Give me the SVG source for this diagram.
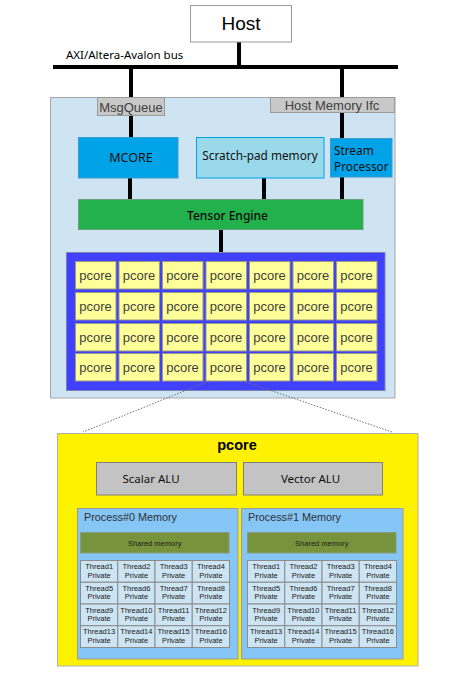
<svg xmlns="http://www.w3.org/2000/svg" width="453" height="676" viewBox="0 0 453 676">
<style>
.ar{font-family:"Liberation Sans",Arial,sans-serif}
.ns{font-family:"Noto Sans","Open Sans",sans-serif}
.bus{stroke:#000;stroke-width:4;fill:none}
.pc rect{fill:#ffff99;stroke:#9a9a80;stroke-width:1}
.pc text{font-family:"Liberation Sans",Arial,sans-serif;font-size:13px;fill:#404040;text-anchor:middle}
.th rect{fill:#cde4f3;stroke:#8c8c8c;stroke-width:1}
.th text{font-family:"Liberation Sans",Arial,sans-serif;font-size:7.5px;fill:#202020;text-anchor:middle}
.dash{stroke:#707070;stroke-width:1;stroke-dasharray:1.5,1.5;fill:none}
</style>
<rect width="453" height="676" fill="#fff"/>

<g id="connectors">
  <line class="bus" x1="239" y1="42" x2="239" y2="67"/>
  <line class="bus" x1="53" y1="67" x2="398" y2="67"/>
  <line class="bus" x1="131" y1="67" x2="131" y2="97"/>
  <line class="bus" x1="342" y1="67" x2="342" y2="97"/>
</g>

<g id="bus-label"><text class="ns" x="66" y="59" font-size="11.5" fill="#000">AXI/Altera-Avalon bus</text></g>

<g id="host">
  <rect x="190.5" y="5.5" width="101" height="36.5" fill="#fff" stroke="#999"/>
  <text class="ar" x="241" y="30" font-size="19" text-anchor="middle" fill="#000">Host</text>
</g>

<g id="container">
  <rect x="50.5" y="97.5" width="344.5" height="300.5" fill="#cfe4f3" stroke="#a6a6a6"/>
</g>

<g id="inner-connectors">
  <line class="bus" x1="131" y1="116" x2="131" y2="137"/>
  <line class="bus" x1="342" y1="113" x2="342" y2="138"/>
  <line class="bus" x1="130" y1="178" x2="130" y2="200"/>
  <line class="bus" x1="264" y1="178" x2="264" y2="200"/>
  <line class="bus" x1="342" y1="177" x2="342" y2="200"/>
  <line class="bus" x1="221" y1="229" x2="221" y2="252"/>
</g>

<g id="msgqueue">
  <rect x="97.5" y="97.5" width="67" height="18" fill="#c8c8c8" stroke="#9a9a9a"/>
  <text class="ar" x="131" y="111.5" font-size="13" text-anchor="middle" fill="#404040">MsgQueue</text>
</g>
<g id="hostmem">
  <rect x="270.5" y="97.5" width="124" height="15" fill="#c8c8c8" stroke="#9a9a9a"/>
  <text class="ar" x="332" y="109.5" font-size="13" text-anchor="middle" fill="#404040">Host Memory Ifc</text>
</g>

<g id="mcore">
  <rect x="78.5" y="137.5" width="99.5" height="40.5" fill="#00a2e8" stroke="#3c9ccc"/>
  <text class="ns" x="131" y="162" font-size="12.5" text-anchor="middle" fill="#101010">MCORE</text>
</g>
<g id="scratchpad">
  <rect x="196.5" y="137.5" width="127.5" height="40.5" fill="#99d9ea" stroke="#00a2e8"/>
  <text class="ns" x="260" y="160" font-size="11.8" text-anchor="middle" fill="#101010">Scratch-pad memory</text>
</g>
<g id="stream">
  <rect x="330.5" y="138.5" width="61.5" height="38.5" fill="#00a2e8" stroke="#3c9ccc"/>
  <text class="ns" x="334" y="155" font-size="11.8" fill="#101010">Stream</text>
  <text class="ns" x="334" y="171" font-size="11.8" fill="#101010">Processor</text>
</g>

<g id="tensor">
  <rect x="78.5" y="199.5" width="284.5" height="30" fill="#22b14c" stroke="#6aa07a"/>
  <text class="ns" x="227.5" y="220" font-size="12" font-weight="500" text-anchor="middle" fill="#0a0a0a">Tensor Engine</text>
</g>

<g id="pcore-array">
  <rect x="66.5" y="252.5" width="318.5" height="138" fill="#4040ff" stroke="#8080b0"/>
</g>

<g id="pc-0-0" class="pc"><rect x="75.5" y="261.5" width="40.5" height="27.5"/><text x="95.5" y="279.5">pcore</text></g>
<g id="pc-0-1" class="pc"><rect x="119" y="261.5" width="40.5" height="27.5"/><text x="139" y="279.5">pcore</text></g>
<g id="pc-0-2" class="pc"><rect x="162.5" y="261.5" width="40.5" height="27.5"/><text x="182.5" y="279.5">pcore</text></g>
<g id="pc-0-3" class="pc"><rect x="206" y="261.5" width="40.5" height="27.5"/><text x="226" y="279.5">pcore</text></g>
<g id="pc-0-4" class="pc"><rect x="249.5" y="261.5" width="40.5" height="27.5"/><text x="269.5" y="279.5">pcore</text></g>
<g id="pc-0-5" class="pc"><rect x="293" y="261.5" width="40.5" height="27.5"/><text x="313" y="279.5">pcore</text></g>
<g id="pc-0-6" class="pc"><rect x="336.5" y="261.5" width="40.5" height="27.5"/><text x="356.5" y="279.5">pcore</text></g>

<g id="pc-1-0" class="pc"><rect x="75.5" y="292.5" width="40.5" height="27.5"/><text x="95.5" y="310.5">pcore</text></g>
<g id="pc-1-1" class="pc"><rect x="119" y="292.5" width="40.5" height="27.5"/><text x="139" y="310.5">pcore</text></g>
<g id="pc-1-2" class="pc"><rect x="162.5" y="292.5" width="40.5" height="27.5"/><text x="182.5" y="310.5">pcore</text></g>
<g id="pc-1-3" class="pc"><rect x="206" y="292.5" width="40.5" height="27.5"/><text x="226" y="310.5">pcore</text></g>
<g id="pc-1-4" class="pc"><rect x="249.5" y="292.5" width="40.5" height="27.5"/><text x="269.5" y="310.5">pcore</text></g>
<g id="pc-1-5" class="pc"><rect x="293" y="292.5" width="40.5" height="27.5"/><text x="313" y="310.5">pcore</text></g>
<g id="pc-1-6" class="pc"><rect x="336.5" y="292.5" width="40.5" height="27.5"/><text x="356.5" y="310.5">pcore</text></g>

<g id="pc-2-0" class="pc"><rect x="75.5" y="323.5" width="40.5" height="27.5"/><text x="95.5" y="341.5">pcore</text></g>
<g id="pc-2-1" class="pc"><rect x="119" y="323.5" width="40.5" height="27.5"/><text x="139" y="341.5">pcore</text></g>
<g id="pc-2-2" class="pc"><rect x="162.5" y="323.5" width="40.5" height="27.5"/><text x="182.5" y="341.5">pcore</text></g>
<g id="pc-2-3" class="pc"><rect x="206" y="323.5" width="40.5" height="27.5"/><text x="226" y="341.5">pcore</text></g>
<g id="pc-2-4" class="pc"><rect x="249.5" y="323.5" width="40.5" height="27.5"/><text x="269.5" y="341.5">pcore</text></g>
<g id="pc-2-5" class="pc"><rect x="293" y="323.5" width="40.5" height="27.5"/><text x="313" y="341.5">pcore</text></g>
<g id="pc-2-6" class="pc"><rect x="336.5" y="323.5" width="40.5" height="27.5"/><text x="356.5" y="341.5">pcore</text></g>

<g id="pc-3-0" class="pc"><rect x="75.5" y="353.5" width="40.5" height="27.5"/><text x="95.5" y="371.5">pcore</text></g>
<g id="pc-3-1" class="pc"><rect x="119" y="353.5" width="40.5" height="27.5"/><text x="139" y="371.5">pcore</text></g>
<g id="pc-3-2" class="pc"><rect x="162.5" y="353.5" width="40.5" height="27.5"/><text x="182.5" y="371.5">pcore</text></g>
<g id="pc-3-3" class="pc"><rect x="206" y="353.5" width="40.5" height="27.5"/><text x="226" y="371.5">pcore</text></g>
<g id="pc-3-4" class="pc"><rect x="249.5" y="353.5" width="40.5" height="27.5"/><text x="269.5" y="371.5">pcore</text></g>
<g id="pc-3-5" class="pc"><rect x="293" y="353.5" width="40.5" height="27.5"/><text x="313" y="371.5">pcore</text></g>
<g id="pc-3-6" class="pc"><rect x="336.5" y="353.5" width="40.5" height="27.5"/><text x="356.5" y="371.5">pcore</text></g>

<g id="zoom-lines">
  <line class="dash" x1="209" y1="381" x2="83" y2="432"/>
  <line class="dash" x1="243" y1="381" x2="392" y2="432"/>
</g>

<g id="pcore-detail">
  <rect x="57.5" y="433.5" width="360.5" height="232.5" fill="#fff200" stroke="#b0b0b0"/>
  <text class="ar" x="237" y="449.5" font-size="14.5" font-weight="bold" text-anchor="middle" fill="#000">pcore</text>
</g>

<g id="scalar-alu">
  <rect x="96.5" y="462.5" width="140" height="32.5" fill="#c3c3c3" stroke="#7f7f7f"/>
  <text class="ns" x="151" y="482.5" font-size="11.5" text-anchor="middle" fill="#101010">Scalar ALU</text>
</g>
<g id="vector-alu">
  <rect x="243.5" y="462.5" width="139" height="32.5" fill="#c3c3c3" stroke="#7f7f7f"/>
  <text class="ns" x="310.5" y="482.5" font-size="11.5" text-anchor="middle" fill="#101010">Vector ALU</text>
</g>

<g id="process0">
  <rect x="77.5" y="508.5" width="160.5" height="150.5" fill="#85c6f7" stroke="#9a9a9a"/>
  <text class="ar" x="84" y="521" font-size="10.8" fill="#303030">Process#0 Memory</text>
  <rect x="80.5" y="532.5" width="148.5" height="20.5" fill="#77933c" stroke="#8a9a80"/>
  <text class="ar" x="154.75" y="545.5" font-size="7.5" text-anchor="middle" fill="#202020">Shared memory</text>
</g>
<g id="process1">
  <rect x="241.5" y="508.5" width="161.5" height="150.5" fill="#85c6f7" stroke="#9a9a9a"/>
  <text class="ar" x="248" y="521" font-size="10.8" fill="#303030">Process#1 Memory</text>
  <rect x="247.5" y="532.5" width="148.5" height="20.5" fill="#77933c" stroke="#8a9a80"/>
  <text class="ar" x="321.75" y="545.5" font-size="7.5" text-anchor="middle" fill="#202020">Shared memory</text>
</g>

<g id="p0-threads" class="th">
  <g id="p0-t1"><rect x="80.5" y="560.5" width="37.25" height="21.75"/><text x="99.1" y="569">Thread1</text><text x="99.1" y="577.5">Private</text></g>
  <g id="p0-t2"><rect x="117.75" y="560.5" width="37.25" height="21.75"/><text x="136.4" y="569">Thread2</text><text x="136.4" y="577.5">Private</text></g>
  <g id="p0-t3"><rect x="155" y="560.5" width="37.25" height="21.75"/><text x="173.6" y="569">Thread3</text><text x="173.6" y="577.5">Private</text></g>
  <g id="p0-t4"><rect x="192.25" y="560.5" width="37.25" height="21.75"/><text x="210.9" y="569">Thread4</text><text x="210.9" y="577.5">Private</text></g>
  <g id="p0-t5"><rect x="80.5" y="582.25" width="37.25" height="21.75"/><text x="99.1" y="590.75">Thread5</text><text x="99.1" y="599.25">Private</text></g>
  <g id="p0-t6"><rect x="117.75" y="582.25" width="37.25" height="21.75"/><text x="136.4" y="590.75">Thread6</text><text x="136.4" y="599.25">Private</text></g>
  <g id="p0-t7"><rect x="155" y="582.25" width="37.25" height="21.75"/><text x="173.6" y="590.75">Thread7</text><text x="173.6" y="599.25">Private</text></g>
  <g id="p0-t8"><rect x="192.25" y="582.25" width="37.25" height="21.75"/><text x="210.9" y="590.75">Thread8</text><text x="210.9" y="599.25">Private</text></g>
  <g id="p0-t9"><rect x="80.5" y="604" width="37.25" height="21.75"/><text x="99.1" y="612.5">Thread9</text><text x="99.1" y="621">Private</text></g>
  <g id="p0-t10"><rect x="117.75" y="604" width="37.25" height="21.75"/><text x="136.4" y="612.5">Thread10</text><text x="136.4" y="621">Private</text></g>
  <g id="p0-t11"><rect x="155" y="604" width="37.25" height="21.75"/><text x="173.6" y="612.5">Thread11</text><text x="173.6" y="621">Private</text></g>
  <g id="p0-t12"><rect x="192.25" y="604" width="37.25" height="21.75"/><text x="210.9" y="612.5">Thread12</text><text x="210.9" y="621">Private</text></g>
  <g id="p0-t13"><rect x="80.5" y="625.75" width="37.25" height="21.75"/><text x="99.1" y="634.25">Thread13</text><text x="99.1" y="642.75">Private</text></g>
  <g id="p0-t14"><rect x="117.75" y="625.75" width="37.25" height="21.75"/><text x="136.4" y="634.25">Thread14</text><text x="136.4" y="642.75">Private</text></g>
  <g id="p0-t15"><rect x="155" y="625.75" width="37.25" height="21.75"/><text x="173.6" y="634.25">Thread15</text><text x="173.6" y="642.75">Private</text></g>
  <g id="p0-t16"><rect x="192.25" y="625.75" width="37.25" height="21.75"/><text x="210.9" y="634.25">Thread16</text><text x="210.9" y="642.75">Private</text></g>
</g>

<g id="p1-threads" class="th">
  <g id="p1-t1"><rect x="247.5" y="560.5" width="37.25" height="21.75"/><text x="266.1" y="569">Thread1</text><text x="266.1" y="577.5">Private</text></g>
  <g id="p1-t2"><rect x="284.75" y="560.5" width="37.25" height="21.75"/><text x="303.4" y="569">Thread2</text><text x="303.4" y="577.5">Private</text></g>
  <g id="p1-t3"><rect x="322" y="560.5" width="37.25" height="21.75"/><text x="340.6" y="569">Thread3</text><text x="340.6" y="577.5">Private</text></g>
  <g id="p1-t4"><rect x="359.25" y="560.5" width="37.25" height="21.75"/><text x="377.9" y="569">Thread4</text><text x="377.9" y="577.5">Private</text></g>
  <g id="p1-t5"><rect x="247.5" y="582.25" width="37.25" height="21.75"/><text x="266.1" y="590.75">Thread5</text><text x="266.1" y="599.25">Private</text></g>
  <g id="p1-t6"><rect x="284.75" y="582.25" width="37.25" height="21.75"/><text x="303.4" y="590.75">Thread6</text><text x="303.4" y="599.25">Private</text></g>
  <g id="p1-t7"><rect x="322" y="582.25" width="37.25" height="21.75"/><text x="340.6" y="590.75">Thread7</text><text x="340.6" y="599.25">Private</text></g>
  <g id="p1-t8"><rect x="359.25" y="582.25" width="37.25" height="21.75"/><text x="377.9" y="590.75">Thread8</text><text x="377.9" y="599.25">Private</text></g>
  <g id="p1-t9"><rect x="247.5" y="604" width="37.25" height="21.75"/><text x="266.1" y="612.5">Thread9</text><text x="266.1" y="621">Private</text></g>
  <g id="p1-t10"><rect x="284.75" y="604" width="37.25" height="21.75"/><text x="303.4" y="612.5">Thread10</text><text x="303.4" y="621">Private</text></g>
  <g id="p1-t11"><rect x="322" y="604" width="37.25" height="21.75"/><text x="340.6" y="612.5">Thread11</text><text x="340.6" y="621">Private</text></g>
  <g id="p1-t12"><rect x="359.25" y="604" width="37.25" height="21.75"/><text x="377.9" y="612.5">Thread12</text><text x="377.9" y="621">Private</text></g>
  <g id="p1-t13"><rect x="247.5" y="625.75" width="37.25" height="21.75"/><text x="266.1" y="634.25">Thread13</text><text x="266.1" y="642.75">Private</text></g>
  <g id="p1-t14"><rect x="284.75" y="625.75" width="37.25" height="21.75"/><text x="303.4" y="634.25">Thread14</text><text x="303.4" y="642.75">Private</text></g>
  <g id="p1-t15"><rect x="322" y="625.75" width="37.25" height="21.75"/><text x="340.6" y="634.25">Thread15</text><text x="340.6" y="642.75">Private</text></g>
  <g id="p1-t16"><rect x="359.25" y="625.75" width="37.25" height="21.75"/><text x="377.9" y="634.25">Thread16</text><text x="377.9" y="642.75">Private</text></g>
</g>
</svg>
